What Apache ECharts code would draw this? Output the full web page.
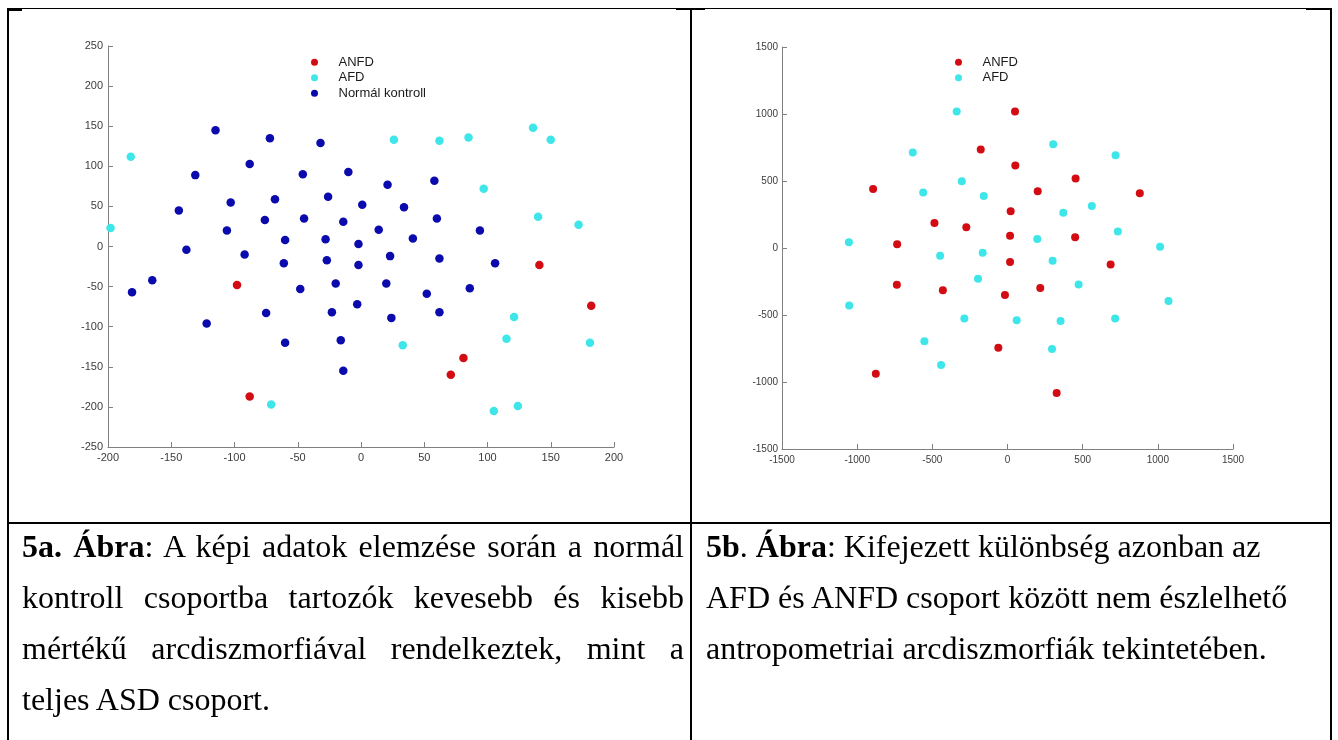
<!DOCTYPE html>
<html lang="hu">
<head>
<meta charset="utf-8">
<title>5a–5b. Ábra</title>
<script src="https://cdn.jsdelivr.net/npm/echarts@6/dist/echarts.min.js"></script>
<style>
  html, body { margin: 0; padding: 0; background: #ffffff; }
  body { width: 1338px; height: 740px; position: relative; overflow: hidden; }
  #chart { position: absolute; left: 0; top: 0; width: 1338px; height: 740px; }
  .rule { position: absolute; background: #000000; z-index: 2; }
  .caption {
    position: absolute; z-index: 1;
    font-family: "Liberation Serif", "Times New Roman", serif;
    font-size: 32px; line-height: 51px; color: #000000;
  }
  .caption .ln { white-space: nowrap; }
  .caption .just { text-align: justify; text-align-last: justify; white-space: nowrap; }
  .caption b { font-weight: bold; }
</style>
</head>
<body>
<div id="chart"></div>

<!-- table rules -->
<div class="rule" style="left:7px; top:8px; width:1325px; height:1px;"></div>
<div class="rule" style="left:7px; top:8px; width:15px; height:3px;"></div>
<div class="rule" style="left:676px; top:8px; width:29px; height:2px;"></div>
<div class="rule" style="left:1306px; top:8px; width:26px; height:2px;"></div>
<div class="rule" style="left:7px; top:8px; width:2px; height:732px;"></div>
<div class="rule" style="left:690px; top:8px; width:2px; height:732px;"></div>
<div class="rule" style="left:1330px; top:8px; width:2px; height:732px;"></div>
<div class="rule" style="left:7px; top:522px; width:1325px; height:2px;"></div>

<div class="caption" style="left:22px; top:521px; width:662px;">
  <div class="just"><b>5a. Ábra</b>: A képi adatok elemzése során a normál</div>
  <div class="just">kontroll csoportba tartozók kevesebb és kisebb</div>
  <div class="just">mértékű arcdiszmorfiával rendelkeztek, mint a</div>
  <div class="ln">teljes ASD csoport.</div>
</div>
<div class="caption" style="left:706px; top:521px; width:620px;">
  <div class="ln"><b>5b</b>. <b>Ábra</b>: Kifejezett különbség azonban az</div>
  <div class="ln">AFD és ANFD csoport között nem észlelhető</div>
  <div class="ln">antropometriai arcdiszmorfiák tekintetében.</div>
</div>

<script>
// ---- 5a: képi adatok (ANFD, AFD, normál kontroll) ----
const ticks5aX = [-200, -150, -100, -50, 0, 50, 100, 150, 200];
const ticks5aY = [-250, -200, -150, -100, -50, 0, 50, 100, 150, 200, 250];

const anfd5a = [[-98,-48],[-88,-187],[141,-23],[182,-74],[81,-139],[71,-160]];

const afd5a = [[-182,112],[-198,23],[26,133],[62,132],[85,136],[136,148],[150,133],
  [97,72],[140,37],[172,27],[121,-88],[115,-115],[181,-120],[33,-123],[124,-199],
  [105,-205],[-71,-197]];

const normal5a = [[-115,145],[-72,135],[-32,129],[-88,103],[-131,89],[-46,90],[-10,93],
  [21,77],[58,82],[-144,45],[-103,55],[-68,59],[-26,62],[1,52],[34,49],[-76,33],
  [-45,35],[-14,31],[60,35],[-106,20],[14,21],[94,20],[-138,-4],[-60,8],[-28,9],
  [-2,3],[41,10],[-92,-10],[-61,-21],[-27,-17],[-2,-23],[23,-12],[62,-15],[106,-21],
  [-165,-42],[-181,-57],[-48,-53],[-20,-46],[20,-46],[52,-59],[86,-52],[-3,-72],
  [-75,-83],[-23,-82],[24,-89],[62,-82],[-122,-96],[-60,-120],[-16,-117],[-14,-155]];

// ---- 5b: antropometriai adatok (ANFD, AFD) ----
const ticks5bX = [-1500, -1000, -500, 0, 500, 1000, 1500];
const ticks5bY = [-1500, -1000, -500, 0, 500, 1000, 1500];

const anfd5b = [[50,1019],[-178,735],[52,616],[-894,440],[453,519],[201,423],[880,408],
  [21,274],[-486,186],[-274,154],[17,92],[450,80],[-734,28],[17,-104],[686,-124],
  [-736,-274],[-430,-315],[-17,-350],[218,-298],[-61,-745],[-876,-939],[327,-1083]];

const afd5b = [[-338,1019],[-630,713],[304,775],[719,693],[-561,415],[-304,499],
  [-158,388],[561,313],[371,263],[198,67],[734,124],[1015,10],[-1055,42],[-448,-57],
  [-165,-35],[300,-95],[-196,-229],[-1053,-430],[473,-273],[1071,-395],[-287,-527],
  [61,-539],[353,-544],[716,-527],[-553,-695],[296,-753],[-442,-874]];

const groupNames = ['ANFD', 'AFD', 'Normál kontroll'];
const groupColors = { 'ANFD': '#d30b12', 'AFD': '#3ee6ea', 'Normál kontroll': '#0a0aad' };

const axisGray = '#808080';
const labelGray = '#3c3c3c';
const sansFont = '"Liberation Sans", Arial, sans-serif';

// plain integer tick text, no thousands separator
const plainTick = (v) => String(v);

function valueAxis(gridIndex, ticks, fontSize, margin) {
  return {
    type: 'value',
    gridIndex: gridIndex,
    min: ticks[0],
    max: ticks[ticks.length - 1],
    interval: ticks[1] - ticks[0],
    axisLine: { show: true, onZero: false, lineStyle: { color: axisGray, width: 1 } },
    axisTick: { show: true, inside: true, length: 5, lineStyle: { color: axisGray } },
    splitLine: { show: false },
    axisLabel: {
      color: labelGray, fontFamily: sansFont, fontSize: fontSize, margin: margin,
      showMinLabel: true, showMaxLabel: true, formatter: plainTick
    }
  };
}

function scatter(name, data, xi, yi, size) {
  return {
    type: 'scatter',
    name: name,
    xAxisIndex: xi,
    yAxisIndex: yi,
    data: data,
    symbol: 'circle',
    symbolSize: size,
    itemStyle: { color: groupColors[name], opacity: 1 },
    emphasis: { disabled: true },
    silent: true
  };
}

function legendBox(left, top, names) {
  return {
    orient: 'vertical',
    left: left,
    top: top,
    data: names,
    icon: 'circle',
    itemWidth: 38,
    itemHeight: 7,
    itemGap: 1,
    selectedMode: false,
    padding: 0,
    textStyle: { color: '#1a1a1a', fontFamily: sansFont, fontSize: 13, lineHeight: 14.5 }
  };
}

const chart = echarts.init(document.getElementById('chart'), null, { renderer: 'canvas' });

chart.setOption({
  animation: false,
  backgroundColor: '#ffffff',
  grid: [
    { left: 108, top: 46, width: 506, height: 401, containLabel: false },
    { left: 782, top: 47, width: 451, height: 402, containLabel: false }
  ],
  xAxis: [
    valueAxis(0, ticks5aX, 11, 5),
    valueAxis(1, ticks5bX, 10, 6)
  ],
  yAxis: [
    valueAxis(0, ticks5aY, 11, 5),
    valueAxis(1, ticks5bY, 10, 4)
  ],
  legend: [
    legendBox(311, 55, groupNames),
    legendBox(955, 55, groupNames.slice(0, 2))
  ],
  series: [
    scatter('ANFD', anfd5a, 0, 0, 8.5),
    scatter('AFD', afd5a, 0, 0, 8.5),
    scatter('Normál kontroll', normal5a, 0, 0, 8.5),
    scatter('ANFD', anfd5b, 1, 1, 8),
    scatter('AFD', afd5b, 1, 1, 8)
  ]
});
</script>
</body>
</html>
